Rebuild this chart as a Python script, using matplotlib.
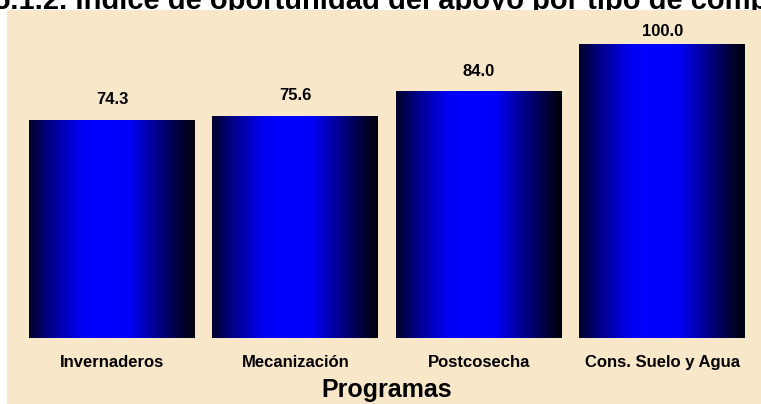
import numpy as np
import matplotlib
matplotlib.use("Agg")
import matplotlib.pyplot as plt
import matplotlib.patches as patches
from matplotlib.colors import LinearSegmentedColormap

programas = ["Invernaderos", "Mecanización", "Postcosecha", "Cons. Suelo y Agua"]
indice = [74.3, 75.6, 84.0, 100.0]
titulo = "5.1.2. Índice de oportunidad del apoyo por tipo de componente"

W, H = 761, 404
plt.rcParams['font.family'] = ['Liberation Sans', 'DejaVu Sans']

fig = plt.figure(figsize=(W / 100, H / 100), dpi=100)
fig.patch.set_facecolor('white')

# title sits behind the parchment, which hides its lower edge
fig.text(-6 / W, 1 - 9 / H, titulo, ha='left', va='baseline', fontsize=21,
         fontweight='bold', zorder=1)

panel = patches.Rectangle((7 / W, 0), 1 - 7 / W, 1 - 10 / H, transform=fig.transFigure,
                          facecolor='#F8E7C8', edgecolor='none', zorder=2)
fig.patches.append(panel)

ymax = 105
ax = fig.add_axes([20.3 / W, (H - 338) / H, (754 - 20.3) / W, 294 * ymax / 100 / H])
ax.set_zorder(3)
ax.patch.set_alpha(0)
x = np.arange(len(programas))
bars = ax.bar(x, indice, width=0.905, color='none', edgecolor='none')

grad = LinearSegmentedColormap.from_list('barra', [
    (0.0, '#000028'), (0.12, '#000085'), (0.3, '#0000EE'), (0.4, '#0000FF'),
    (0.6, '#0000FA'), (0.76, '#000095'), (0.9, '#000040'), (1.0, '#000008')])
row = np.linspace(0, 1, 256).reshape(1, -1)

# labels sit ~20px above the bar, but never above the plot area
px_per_unit = 2.94
for b in bars:
    x0, w, h = b.get_x(), b.get_width(), b.get_height()
    im = ax.imshow(row, cmap=grad, aspect='auto', extent=(x0, x0 + w, 0, h), zorder=2)
    im.set_clip_path(b)
    ylab = min(h + 20 / px_per_unit, ymax - 0.6)
    ax.text(x0 + w / 2, ylab, f"{h:.1f}", ha='center', va='center',
            fontsize=12, fontweight='bold')
ax.set_xlim(-0.5, len(programas) - 0.5)
ax.set_ylim(0, ymax)

for s in ax.spines.values():
    s.set_visible(False)
ax.set_yticks([])
ax.set_xticks(x)
ax.set_xticklabels(programas, fontsize=12, fontweight='bold')
ax.tick_params(axis='x', length=0, pad=12)
ax.set_xlabel("Programas", fontsize=18, fontweight='bold', labelpad=6)

fig.savefig("out.png", dpi=100)
